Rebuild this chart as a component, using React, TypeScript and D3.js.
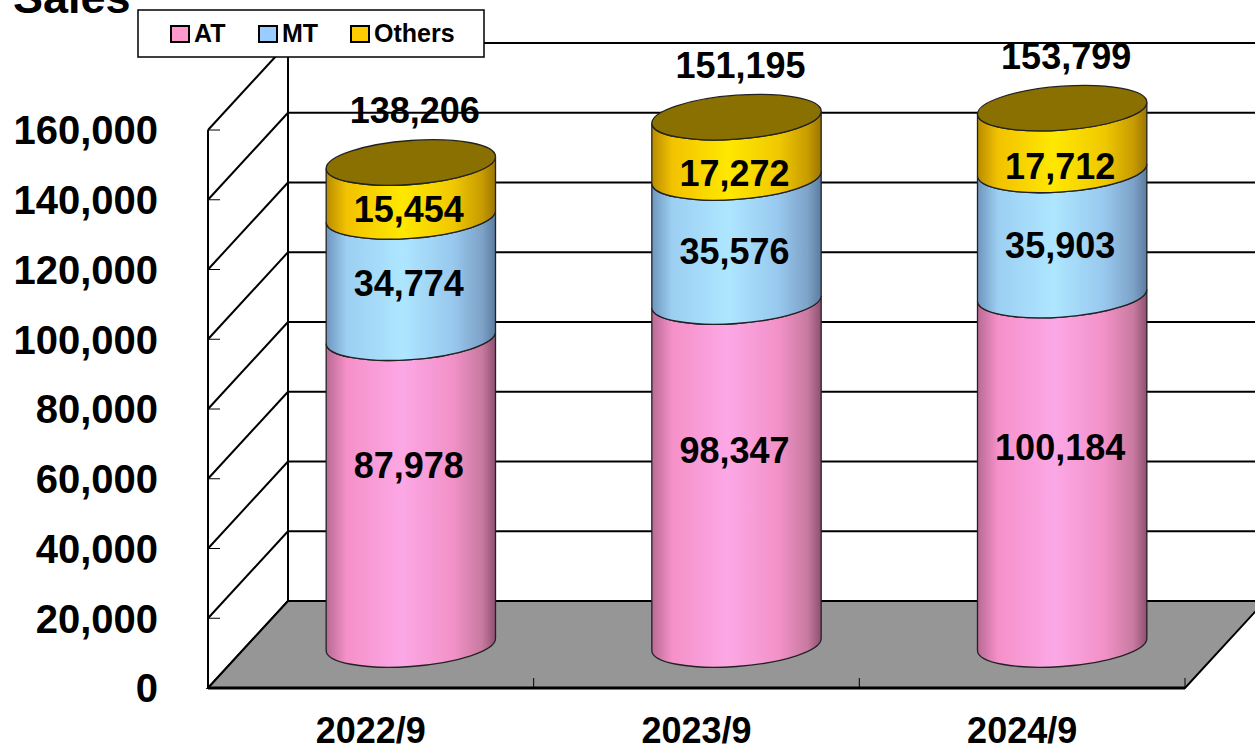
import * as d3 from "d3";

const categories = ["2022/9", "2023/9", "2024/9"];
const seriesNames = ["AT", "MT", "Others"];
const atValues = [87978, 98347, 100184];
const mtValues = [34774, 35576, 35903];
const otherValues = [15454, 17272, 17712];
const totals = [138206, 151195, 153799];
const yTicks = [0, 20000, 40000, 60000, 80000, 100000, 120000, 140000, 160000];

const W = 1255;
const H = 744;
const FONT = "'Liberation Sans', Arial, sans-serif";

// plot geometry (front plane + depth offset)
const left = 208;
const right = 1185;
const bottom = 688;
const top = 130;
const depthX = 80;
const depthY = -87;
const ry = 22;
const skew = -4;

const palette = [
  ["#b86a94", "#f590c8", "#fca8e6", "#f291c8", "#c87aa0", "#8e5070"],
  ["#6e95be", "#9ccff2", "#aee6ff", "#98c8ee", "#7ea2c8", "#5a7ca0"],
  ["#b88c00", "#f2c200", "#ffe800", "#f0c800", "#c89c00", "#9a7600"],
];
const legendFill = ["#ff99cc", "#99ccff", "#ffcc00"];
const capColor = "#8a7000";
const stops = [0, 0.12, 0.45, 0.75, 0.92, 1];

export default function App() {
  const x = d3.scaleBand().domain(categories).range([left, right]).padding(0);
  const y = d3.scaleLinear().domain([0, 160000]).range([bottom, top]);
  // labels in the 3D view sit a bit flatter than the bars themselves
  const labelY = d3.scaleLinear().domain([0, 160000]).range([596, 121]);
  const fmt = d3.format(",");
  const rx = x.bandwidth() * 0.26;
  const seriesValues = [atValues, mtValues, otherValues];

  const stack = d3
    .stack<number>()
    .keys(["0", "1", "2"])
    .value((i, k) => seriesValues[+k][i]);
  const layers = stack(categories.map((_, i) => i));

  const midX = depthX / 2;
  const midY = depthY / 2;

  const bodyPath = (y0: number, y1: number) =>
    `M${-rx},${y1} L${-rx},${y0} A${rx},${ry} 0 0 0 ${rx},${y0} L${rx},${y1} A${rx},${ry} 0 0 1 ${-rx},${y1} Z`;

  return (
    <svg
      width={W}
      height={H}
      style={{ position: "absolute", left: 0, top: 0, background: "#fff" }}
      fontFamily={FONT}
    >
      <defs>
        {palette.map((cols, i) => (
          <linearGradient key={i} id={`g${i}`} x1="0" x2="1" y1="0" y2="0">
            {cols.map((c, j) => (
              <stop key={j} offset={stops[j]} stopColor={c} />
            ))}
          </linearGradient>
        ))}
      </defs>

      {/* back wall gridlines */}
      {yTicks.map((t) => (
        <line
          key={"b" + t}
          x1={left + depthX}
          x2={right + depthX + 20}
          y1={y(t) + depthY}
          y2={y(t) + depthY}
          stroke="#000"
          strokeWidth={2}
        />
      ))}
      <line x1={left + depthX} x2={left + depthX} y1={y(160000) + depthY} y2={y(0) + depthY} stroke="#000" strokeWidth={2} />
      {/* side wall diagonals */}
      {yTicks.map((t) => (
        <line
          key={"s" + t}
          x1={left}
          x2={left + depthX}
          y1={y(t)}
          y2={y(t) + depthY}
          stroke="#000"
          strokeWidth={2}
        />
      ))}
      <line x1={left} x2={left} y1={y(160000)} y2={y(0)} stroke="#000" strokeWidth={2} />
      {yTicks.map((t) => (
        <line key={"t" + t} x1={left} x2={left + 12} y1={y(t)} y2={y(t)} stroke="#000" strokeWidth={1} />
      ))}

      {/* floor */}
      <polygon
        points={`${left},${y(0)} ${right},${y(0)} ${right + depthX},${y(0) + depthY} ${left + depthX},${y(0) + depthY}`}
        fill="#969696"
        stroke="#000"
        strokeWidth={2}
      />
      <line x1={left} x2={right} y1={y(0)} y2={y(0)} stroke="#000" strokeWidth={3} />
      {categories.map((c) => (
        <line key={"ct" + c} x1={x(c)! + x.bandwidth()} x2={x(c)! + x.bandwidth()} y1={y(0)} y2={y(0) - 10} stroke="#000" strokeWidth={1} />
      ))}

      {/* y tick labels */}
      {yTicks.map((t) => (
        <text key={"l" + t} x={158} y={y(t)} dy="0.36em" textAnchor="end" fontSize={40} fontWeight="bold">
          {fmt(t)}
        </text>
      ))}

      {/* category labels */}
      {categories.map((c) => (
        <text key={"c" + c} x={x(c)! + x.bandwidth() / 2} y={743} textAnchor="middle" fontSize={36} fontWeight="bold">
          {c}
        </text>
      ))}

      {/* cylinders */}
      {categories.map((c, i) => {
        const cx = x(c)! + x.bandwidth() / 2 + midX;
        const topVal = layers[2][i][1];
        return (
          <g key={"cy" + c}>
            <g transform={`translate(${cx},0) skewY(${skew})`}>
              {layers.map((layer, k) => (
                <path
                  key={k}
                  d={bodyPath(y(layer[i][0]) + midY, y(layer[i][1]) + midY)}
                  fill={`url(#g${k})`}
                  stroke="#222"
                  strokeWidth={1.3}
                />
              ))}
              <ellipse cx={0} cy={y(topVal) + midY} rx={rx} ry={ry} fill={capColor} stroke="#222" strokeWidth={1.3} />
            </g>
            {layers.map((layer, k) => (
              <text
                key={"v" + k}
                x={cx - 2}
                y={labelY((layer[i][0] + layer[i][1]) / 2)}
                dy="0.36em"
                textAnchor="middle"
                fontSize={36}
                fontWeight="bold"
              >
                {fmt(seriesValues[k][i])}
              </text>
            ))}
            <text x={cx + 4} y={y(totals[i]) + midY - 52} dy="0.36em" textAnchor="middle" fontSize={36} fontWeight="bold">
              {fmt(totals[i])}
            </text>
          </g>
        );
      })}

      {/* legend */}
      <rect x={138} y={10} width={346} height={47} fill="#fff" stroke="#000" strokeWidth={1.5} />
      {seriesNames.map((s, i) => {
        const lx = [171, 259, 351][i];
        return (
          <g key={"lg" + s}>
            <rect x={lx} y={26} width={18} height={16} fill={legendFill[i]} stroke="#000" strokeWidth={2} />
            <text x={lx + 23} y={42} fontSize={25} fontWeight="bold">
              {s}
            </text>
          </g>
        );
      })}

      <text x={13} y={13} fontSize={45} fontWeight="bold">
        Sales
      </text>
    </svg>
  );
}
